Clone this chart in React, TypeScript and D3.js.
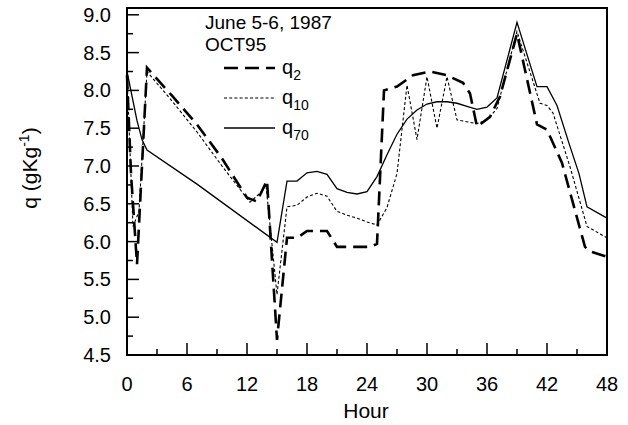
import React from "react";
import * as d3 from "d3";

const hoursQ2 = [0, 0.4, 1.0, 2.0, 4.5, 7, 9.5, 12, 13, 14, 15, 16, 17, 18, 20, 21, 24.3, 25, 25.7, 27, 28.6, 30.3, 32, 33.6, 34.3, 35, 36.3, 37.3, 39, 40, 41, 42, 43.5, 45.8, 46.3, 48];
const valuesQ2 = [8.2, 6.9, 5.7, 8.3, 7.93, 7.55, 7.1, 6.58, 6.53, 6.81, 4.7, 6.05, 6.05, 6.14, 6.14, 5.93, 5.93, 5.97, 8.0, 8.05, 8.2, 8.25, 8.2, 8.1, 7.96, 7.52, 7.65, 7.92, 8.75, 8.15, 7.55, 7.48, 7.04, 5.93, 5.87, 5.8];

const hoursQ10 = [0, 0.6, 1.2, 2.0, 4.5, 7, 9.5, 12.3, 13.3, 13.9, 15, 16, 17, 18, 19, 20, 21, 22, 23, 24, 25, 26, 27, 28, 29, 30, 31, 32, 33, 35, 36, 37, 39, 41.3, 42, 42.6, 44.3, 46, 48];
const valuesQ10 = [8.2, 6.2, 6.4, 8.25, 7.86, 7.45, 7.0, 6.52, 6.64, 6.75, 5.3, 6.46, 6.48, 6.59, 6.64, 6.6, 6.4, 6.35, 6.31, 6.26, 6.22, 6.45, 6.9, 8.07, 7.35, 8.18, 7.5, 8.18, 7.61, 7.56, 7.61, 7.76, 8.78, 7.83, 7.8, 7.7, 6.99, 6.2, 6.05];

const hoursQ70 = [0, 1, 1.5, 2, 7, 15, 16, 17, 18, 19, 20, 21, 22, 23, 24, 25, 26, 27, 28, 29, 30, 31, 32, 33, 34, 35, 36, 37, 39, 41, 42, 43, 44.2, 45.2, 46, 48];
const valuesQ70 = [8.25, 7.6, 7.35, 7.21, 6.76, 5.99, 6.8, 6.8, 6.91, 6.93, 6.89, 6.7, 6.65, 6.63, 6.66, 6.86, 7.15, 7.42, 7.62, 7.74, 7.82, 7.85, 7.85, 7.83, 7.79, 7.75, 7.78, 7.9, 8.9, 8.05, 8.05, 7.8, 7.3, 6.9, 6.46, 6.31];

const xTicks = [0, 6, 12, 18, 24, 30, 36, 42, 48];
const yTicks = [4.5, 5.0, 5.5, 6.0, 6.5, 7.0, 7.5, 8.0, 8.5, 9.0];

const W = 628, H = 425;
const L = 127, R = 607, T = 8, B = 355;
const FONT = "Arial, 'Liberation Sans', Helvetica, sans-serif";

export default function App() {
  const x = d3.scaleLinear().domain([0, 48]).range([L, R]);
  const y = d3.scaleLinear().domain([4.5, 9.09]).range([B, T]);
  const line = d3.line<[number, number]>().x(d => x(d[0])).y(d => y(d[1]));
  const mk = (hs: number[], vs: number[]) => line(hs.map((h, i) => [h, vs[i]] as [number, number])) || "";

  const minorX = d3.range(3, 48, 6);
  const minorY = d3.range(4.75, 9.0, 0.5);

  const series = [
    { name: "2", d: mk(hoursQ2, valuesQ2), w: 2.6, dash: "14,7" },
    { name: "10", d: mk(hoursQ10, valuesQ10), w: 1.1, dash: "3,2.2" },
    { name: "70", d: mk(hoursQ70, valuesQ70), w: 1.3, dash: "none" },
  ];
  const legY = [68, 98, 128];

  return (
    <svg width={W} height={H} style={{ position: "absolute", left: 0, top: 0, background: "#fff" }} fontFamily={FONT}>
      <rect x={0} y={0} width={W} height={H} fill="#fff" />
      {series.map(s => (
        <path key={s.name} d={s.d} fill="none" stroke="#000" strokeWidth={s.w} strokeDasharray={s.dash} strokeLinejoin="miter" />
      ))}
      <rect x={L} y={T} width={R - L} height={B - T} fill="none" stroke="#000" strokeWidth={2} />
      {xTicks.map(t => (
        <g key={"xt" + t}>
          <line x1={x(t)} x2={x(t)} y1={B} y2={B - 12} stroke="#000" strokeWidth={1.5} />
          <text x={x(t)} y={391} fontSize={20} textAnchor="middle">{t}</text>
        </g>
      ))}
      {minorX.map(t => (
        <line key={"xm" + t} x1={x(t)} x2={x(t)} y1={B} y2={B - 6} stroke="#000" strokeWidth={1.5} />
      ))}
      {yTicks.map(t => (
        <g key={"yt" + t}>
          <line x1={L} x2={L + 12} y1={y(t)} y2={y(t)} stroke="#000" strokeWidth={1.5} />
          <text x={111} y={y(t) + 7} fontSize={20} textAnchor="end">{t.toFixed(1)}</text>
        </g>
      ))}
      {minorY.map(t => (
        <line key={"ym" + t} x1={L} x2={L + 6} y1={y(t)} y2={y(t)} stroke="#000" strokeWidth={1.5} />
      ))}
      <text x={366} y={418} fontSize={21} textAnchor="middle">Hour</text>
      <text transform={`translate(37,168) rotate(-90)`} fontSize={21} textAnchor="middle">
        q (gKg<tspan dy={-8} fontSize={14}>-1</tspan><tspan dy={8}>)</tspan>
      </text>
      <text x={205} y={29} fontSize={19}>June 5-6, 1987</text>
      <text x={205} y={51} fontSize={19}>OCT95</text>
      {series.map((s, i) => (
        <g key={"lg" + s.name}>
          <line x1={224} x2={275} y1={legY[i]} y2={legY[i]} stroke="#000" strokeWidth={s.w} strokeDasharray={s.dash} />
          <text x={282} y={legY[i] + 6} fontSize={20}>q<tspan dy={6} fontSize={14}>{s.name}</tspan></text>
        </g>
      ))}
    </svg>
  );
}
